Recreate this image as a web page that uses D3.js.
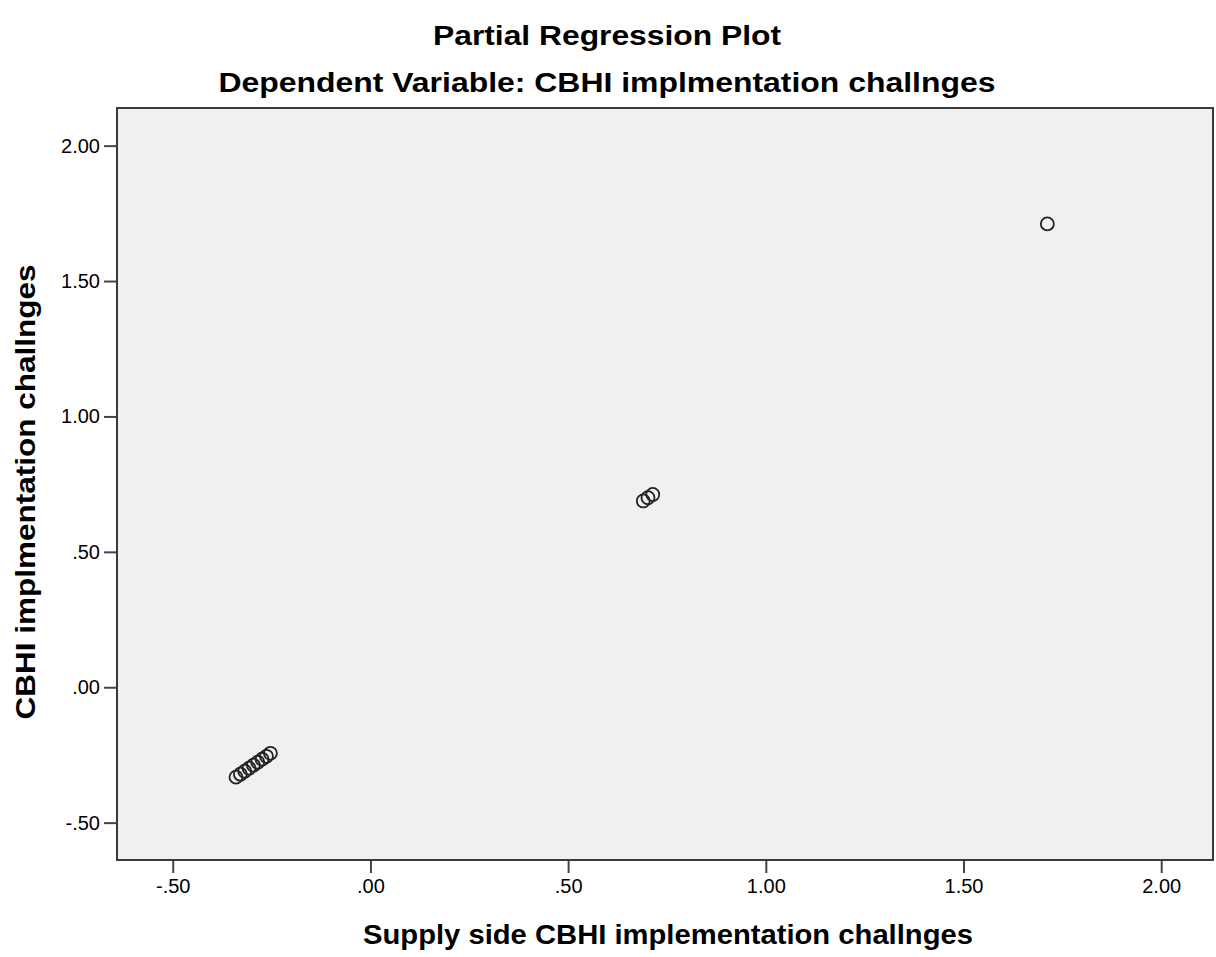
<!DOCTYPE html>
<html lang="en">
<head>
    <meta charset="UTF-8">
    <title>Partial Regression Plot</title>
</head>
<style>
    body { margin: 0; background: #fff; }
    text { font-family: "Liberation Sans", Arial, sans-serif; fill: #000; }
    .tick text { font-size: 20px; }
    .title, .axis-label { font-weight: bold; }
</style>
<body>
<script src="https://cdn.jsdelivr.net/npm/d3@7"></script>
<script>
    const width = 1216, height = 957;

    // points (x = supply side, y = CBHI challenges)
    const xVals = [-0.340, -0.329, -0.318, -0.307, -0.296, -0.285, -0.274, -0.263, -0.253, 0.690, 0.702, 0.714, 1.712];
    const yVals = [-0.332, -0.321, -0.310, -0.299, -0.288, -0.277, -0.266, -0.255, -0.244, 0.688, 0.700, 0.712, 1.711];
    const xTicks = [-0.5, 0, 0.5, 1.0, 1.5, 2.0];
    const yTicks = [-0.5, 0, 0.5, 1.0, 1.5, 2.0];

    const titleText = "Partial Regression Plot";
    const subTitleText = "Dependent Variable: CBHI implmentation challnges";
    const xLabelText = "Supply side CBHI implementation challnges";
    const yLabelText = "CBHI implmentation challnges";

    const plotLeft = 117, plotRight = 1213, plotTop = 108, plotBottom = 860;

    const x = d3.scaleLinear().domain([-0.641, 2.131]).range([plotLeft, plotRight]);
    const y = d3.scaleLinear().domain([-0.638, 2.139]).range([plotBottom, plotTop]);

    // SPSS style: plain hyphen, no leading zero
    const fmt = function (v) {
        return d3.format(".2f")(v).replace("\u2212", "-").replace(/^(-?)0\./, "$1.");
    };

    const svg = d3.select("body")
        .append("svg")
        .attr("width", width)
        .attr("height", height);

    svg.append("rect")
        .attr("x", plotLeft)
        .attr("y", plotTop)
        .attr("width", plotRight - plotLeft)
        .attr("height", plotBottom - plotTop)
        .attr("fill", "#f0f0f0");

    const xAxis = svg.append("g")
        .attr("transform", "translate(0," + plotBottom + ")")
        .call(d3.axisBottom(x).tickValues(xTicks).tickFormat(fmt).tickSize(13).tickPadding(6));
    xAxis.select(".domain").remove();
    xAxis.selectAll(".tick line").attr("stroke", "#444").attr("stroke-width", 2);

    const yAxis = svg.append("g")
        .attr("transform", "translate(" + plotLeft + ",0)")
        .call(d3.axisLeft(y).tickValues(yTicks).tickFormat(fmt).tickSize(13).tickPadding(4));
    yAxis.select(".domain").remove();
    yAxis.selectAll(".tick line").attr("stroke", "#444").attr("stroke-width", 2);
    svg.selectAll(".tick text").attr("fill", "#000");

    svg.append("rect")
        .attr("x", plotLeft)
        .attr("y", plotTop)
        .attr("width", plotRight - plotLeft)
        .attr("height", plotBottom - plotTop)
        .attr("fill", "none")
        .attr("stroke", "#3a3a3a")
        .attr("stroke-width", 2);

    svg.append("g")
        .selectAll("circle")
        .data(xVals)
        .enter().append("circle")
        .attr("cx", function (d) { return x(d); })
        .attr("cy", function (d, i) { return y(yVals[i]); })
        .attr("r", 6.5)
        .attr("fill", "none")
        .attr("stroke", "#222")
        .attr("stroke-width", 1.8);

    svg.append("text")
        .attr("class", "title")
        .attr("x", 607)
        .attr("y", 45)
        .attr("text-anchor", "middle")
        .style("font-size", "27px")
        .attr("textLength", 348)
        .attr("lengthAdjust", "spacingAndGlyphs")
        .text(titleText);

    svg.append("text")
        .attr("class", "title")
        .attr("x", 607)
        .attr("y", 92)
        .attr("text-anchor", "middle")
        .style("font-size", "27px")
        .attr("textLength", 777)
        .attr("lengthAdjust", "spacingAndGlyphs")
        .text(subTitleText);

    svg.append("text")
        .attr("class", "axis-label")
        .attr("x", 668)
        .attr("y", 944)
        .attr("text-anchor", "middle")
        .style("font-size", "27px")
        .attr("textLength", 610)
        .attr("lengthAdjust", "spacingAndGlyphs")
        .text(xLabelText);

    svg.append("text")
        .attr("class", "axis-label")
        .attr("transform", "translate(35,492) rotate(-90)")
        .attr("text-anchor", "middle")
        .style("font-size", "27px")
        .attr("textLength", 455)
        .attr("lengthAdjust", "spacingAndGlyphs")
        .text(yLabelText);
</script>
</body>
</html>
